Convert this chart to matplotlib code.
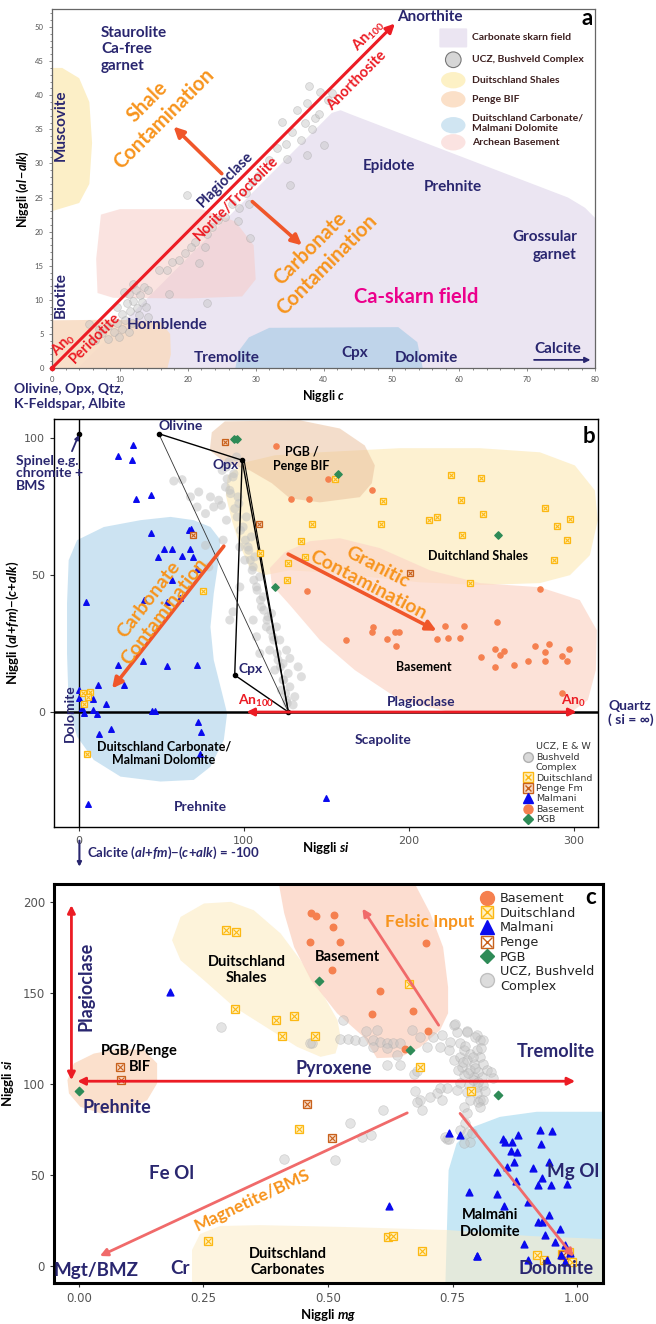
import matplotlib
matplotlib.use("Agg")
import matplotlib.pyplot as plt
from matplotlib.patches import Polygon, Ellipse, FancyBboxPatch
from matplotlib.lines import Line2D
from matplotlib.legend_handler import HandlerTuple
from matplotlib.ticker import MultipleLocator, FormatStrFormatter

plt.rcParams['font.family'] = ['Lato', 'DejaVu Sans']
plt.rcParams['mathtext.fontset'] = 'custom'
plt.rcParams['mathtext.rm'] = 'Lato:bold'
plt.rcParams['mathtext.it'] = 'Lato:italic:bold'
plt.rcParams['mathtext.bf'] = 'Lato:bold'

NAVY = '#29266f'
RED = '#ec1c24'
ORANGE = '#f7941d'
ARROW = '#f0562a'
SALMON = '#f06a6a'
YEL = '#fcb813'
YEL_FACE = '#fff2c4'
BRN = '#c8611c'
BRN_FACE = '#f9dcc8'
BLUE_PT = '#0a0aee'
ORG_PT = '#f5804f'
GRN = '#2e8b57'
GREY_PT = '#c4c4c4'

# ---------------- panel a : Niggli c vs Niggli (al-alk)
A_UCZ_X = [37.8, 39.5, 36.1, 37.6, 33.9, 35.3, 36.6, 40.0, 37.5, 34.6, 35.0, 40.7, 38.8, 37.3,
           38.3, 39.3, 41.2, 34.4, 33.1, 31.9, 30.4, 29.5, 28.5, 26.5, 24.5, 23.6, 25.5, 19.9,
           27.5, 29.0, 29.2, 27.4, 21.1, 22.6, 20.4, 19.6, 18.7, 17.7, 16.9, 15.7, 21.6, 22.8,
           22.8, 17.2, 10.6, 11.3, 12.3, 13.5, 14.2, 13.0, 12.0, 13.3, 11.0, 12.5, 11.5, 10.3,
           12.8, 10.8, 9.6, 11.8, 8.3, 10.3, 9.1, 7.4, 11.3, 9.8, 8.3, 6.9, 5.4, 14.2, 6.4,
           13.8, 12.0, 9.5]
A_UCZ_Y = [41.4, 40.5, 37.9, 38.8, 36.1, 34.6, 33.4, 32.7, 31.2, 30.6, 26.8, 39.3, 36.6, 35.9,
           35.1, 37.3, 40.3, 32.9, 32.2, 30.5, 28.1, 27.3, 25.6, 24.1, 21.7, 20.7, 22.2, 25.3,
           23.4, 24.1, 19.0, 21.5, 18.5, 17.8, 17.8, 16.8, 15.8, 15.6, 14.4, 14.4, 15.4, 19.7,
           9.5, 10.9, 11.2, 10.9, 11.5, 11.9, 11.5, 10.7, 9.9, 9.7, 9.5, 8.8, 8.3, 8.0,
           7.8, 7.1, 6.6, 6.6, 6.1, 5.8, 5.3, 5.1, 5.3, 4.6, 4.3, 5.8, 6.5, 7.5, 4.1,
           9.0, 12.3, 9.0]
A_SKARN = [(3.8, 0), (41.2, 37.4), (42.5, 37.8), (44, 37.2), (76, 25), (78.5, 23.5), (80, 22), (80, 0)]
A_SHALES = [(0, 23), (4, 24.2), (5.5, 27), (5.9, 33), (5.5, 39), (4, 42.5), (1.5, 44), (0, 44)]
A_BASEMENT = [(7.2, 22.5), (10, 23.3), (22, 23.3), (27, 21.5), (29.7, 18), (30, 13), (28, 10.5),
              (20, 10.2), (9, 10.3), (6.7, 11), (6.5, 16)]
A_PENGE = [(0, 0), (0, 7), (10, 7.1), (16, 6.8), (17.4, 5), (17.5, 2), (17, 0)]
A_CARB = [(27, 0), (27.5, 2.5), (29, 4.5), (32, 5.9), (51, 6), (53.8, 3.8), (54.6, 0)]
A_PLAG_LINE = [(0, 0), (50.5, 50.5)]
A_ARROWS = [((25.0, 28.5), (17.9, 35.4)), ((29.5, 24.4), (36.8, 18.0))]
A_CALCITE_ARROW = [(71.0, 1.2), (79.3, 1.2)]

# ---------------- panel b : Niggli si vs (al+fm)-(c+alk)
B_UCZ_X = [57.6, 62.6, 72.7, 79.8, 84.8, 81.8, 76.8, 71.7, 67.7, 89.9, 88.9, 92.0, 94.0, 95.6, 90.9,
           86.9, 97.0, 96.0, 98.0, 101.0, 103.0, 104.0, 105.1, 106.1, 108.1, 110.1, 112.1, 114.1,
           116.2, 118.2, 120.2, 122.2, 124.2, 125.3, 126.3, 76.8, 78.8, 93.5, 97.6, 89.5, 93.5,
           91.5, 96.5, 94.5, 101.6, 99.6, 104.6, 102.6, 106.7, 105.7, 109.7, 107.7, 111.7, 110.7,
           114.7, 113.7, 117.7, 115.7, 120.8, 118.8, 123.8, 122.8, 125.9, 129.9, 130.9, 127.9,
           126.9, 123.8, 127.9, 132.9, 134.9, 125.9, 121.8, 119.8, 116.8, 105.7, 107.7, 109.7,
           86.5, 89.5, 87.5, 97.6, 100.6, 91.5]
B_UCZ_Y = [84.4, 84.9, 80.4, 78.6, 77.4, 74.9, 72.5, 74.9, 78.6, 85.2, 82.2, 79.8, 87.1, 93.2, 91.4,
           88.3, 76.2, 71.3, 66.4, 62.8, 59.1, 55.5, 51.8, 48.2, 44.5, 40.9, 37.2, 33.6,
           29.9, 26.3, 21.4, 16.5, 11.7, 6.8, 3.2, 60.9, 53.0, 36.6, 45.7, 89.5, 85.9,
           81.0, 78.6, 74.3, 71.3, 67.6, 64.0, 60.3, 56.7, 53.0, 49.4, 45.7, 42.1, 38.4,
           34.8, 31.1, 27.5, 22.6, 19.0, 15.3, 11.7, 8.0, 4.4, 2.6, 5.6, 9.2,
           14.1, 17.7, 19.6, 16.5, 12.9, 22.6, 26.3, 31.1, 36.0, 33.6, 27.5, 21.4,
           75.5, 70.1, 62.8, 60.3, 55.5, 33.6]
B_MALMANI_X = [32.7, 23.6, 32.3, 34.7, 44.0, 44.0, 66.7, 68.1, 51.5, 56.6, 48.1, 62.4, 67.7, 69.5,
               71.7, 56.6, 4.6, 39.4, 53.5, 61.6, 39.0, 23.8, 53.3, 71.5, 11.5, 27.7, 16.6, 0.0,
               2.0, 8.5, 3.0, 8.7, 10.8, 0.0, 44.4, 45.9, 12.5, 19.8, 72.5, 74.0, 73.3, 5.5, 150.1]
B_MALMANI_Y = [97.7, 93.5, 92.2, 78.0, 79.2, 65.4, 66.4, 66.8, 59.4, 59.7, 56.5, 56.9, 59.4, 56.7,
               52.4, 48.2, 40.3, 40.9, 40.3, 41.5, 18.7, 17.0, 16.7, 17.3, 9.7, 9.7, 3.0, 5.2,
               1.3, 4.6, -0.2, 0.9, -0.6, 8.0, 0.4, 0.4, -8.1, -6.3, -3.8, -7.4, -15.3, -33.7, -31.3]
B_DUIT_X = [75.2, 2.6, 7.1, 5.7, 3.4, 5.1, 155.2, 184.2, 141.4, 134.5, 136.9, 126.5, 125.9, 109.7,
            183.2, 212.1, 217.1, 225.3, 243.6, 231.9, 245.1, 232.5, 237.0, 282.4, 297.6, 289.9,
            295.6, 287.9]
B_DUIT_Y = [44.4, 7.1, 7.4, 5.6, 2.8, -15.5, 85.3, 77.0, 68.6, 62.5, 56.7, 54.3, 48.2, 58.0,
            68.6, 70.3, 71.3, 86.5, 85.6, 77.4, 72.5, 64.8, 47.0, 74.7, 70.7, 67.9,
            62.8, 55.5]
B_PENGE_X = [69.3, 88.5, 109.3, 200.6]
B_PENGE_Y = [64.6, 98.7, 68.6, 50.8]
B_BASE_X = [119.4, 151.1, 128.9, 139.6, 177.4, 138.4, 279.4, 178.4, 177.8, 162.2, 186.5, 191.5,
            194.1, 192.5, 216.8, 222.1, 223.9, 230.7, 233.4, 253.7, 252.1, 257.8, 255.2, 243.6,
            252.5, 263.8, 272.3, 276.4, 282.4, 285.1, 282.6, 293.1, 296.8, 295.6, 292.9]
B_BASE_Y = [97.2, 85.3, 77.7, 77.8, 81.0, 44.3, 44.8, 31.1, 29.3, 26.3, 26.5, 29.3,
            29.3, 24.2, 26.6, 31.5, 26.9, 27.0, 31.6, 33.0, 22.9, 22.3, 20.8, 20.0,
            16.3, 17.3, 18.6, 24.0, 21.9, 24.7, 18.8, 20.5, 22.9, 18.6, 6.8]
B_PGB_X = [93.9, 95.9, 156.8, 254.1, 118.8]
B_PGB_Y = [99.9, 99.9, 86.9, 64.6, 45.7]
# phase points: spinel, olivine, opx, cpx, An100
B_PHASE_X = [0.0, 48.5, 99.0, 94.5, 127.0]
B_PHASE_Y = [101.7, 101.7, 92.0, 13.5, 0.0]
B_CARB = [(-6.1, 55.5), (-1.0, 62.8), (15.2, 67.6), (37.4, 70.1), (55.6, 71.3), (69.7, 70.1),
          (79.8, 67.6), (85.9, 62.8), (84.8, 55.5), (81.8, 43.3), (79.8, 31.1), (81.8, 19.0),
          (86.9, 6.8), (89.9, -0.5), (87.9, -10.2), (79.8, -20.0), (69.7, -24.8), (49.5, -25.4),
          (25.3, -23.6), (9.1, -17.5), (-1.0, -9.0), (-6.1, 1.9), (-7.1, 21.4), (-7.1, 39.7)]
B_PENGE_FIELD = [(80.6, 102.2), (88.5, 106.2), (133.9, 106.6), (158.2, 103.6), (173.3, 97.4),
                 (179.4, 90.1), (177.6, 83.6), (170.3, 78.5), (146.1, 76.6), (127.9, 78.1),
                 (117.0, 83.6), (103.6, 88.3), (88.5, 91.2), (79.4, 95.6)]
B_SHALES = [(90.3, 86.5), (100.6, 91.2), (118.8, 93.8), (146.1, 94.9), (194.5, 96.4), (243.0, 96.4),
            (279.4, 94.9), (300.6, 90.1), (312.7, 81.0), (314.5, 70.1), (309.7, 57.3), (297.6, 50.0),
            (279.4, 47.1), (243.0, 46.4), (206.7, 47.4), (176.4, 49.3), (146.1, 51.1), (127.9, 51.8),
            (112.7, 50.0), (103.6, 52.6), (97.6, 60.9), (92.7, 70.1), (89.1, 79.2)]
B_BASEMENT = [(115.8, 52.6), (124.8, 58.4), (140.0, 62.4), (158.2, 63.5), (182.4, 59.9), (212.7, 51.8),
              (243.0, 47.1), (279.4, 45.6), (303.6, 40.9), (313.9, 29.9), (313.3, 15.3), (308.5, 4.4),
              (297.6, -0.4), (267.3, -0.7), (224.8, 0.0), (194.5, 4.4), (167.3, 15.3), (146.1, 26.3),
              (127.9, 39.1), (117.0, 46.4)]
B_ARROWS = [((87.9, 60.6), (20.2, 8.6)), ((126.9, 57.7), (216.8, 29.7))]
B_PLAG_ARROWS = [((127, 0), (101.6, 0)), ((127, 0), (301.6, 0))]

# ---------------- panel c : Niggli mg vs Niggli si
C_UCZ_X = [0.285, 0.412, 0.467, 0.531, 0.524, 0.541, 0.554, 0.571, 0.576, 0.598, 0.591, 0.605, 0.618,
           0.631, 0.645, 0.591, 0.618, 0.639, 0.668, 0.685, 0.698, 0.711, 0.725, 0.728, 0.752, 0.758,
           0.778, 0.799, 0.805, 0.745, 0.765, 0.742, 0.752, 0.765, 0.772, 0.785, 0.799, 0.805, 0.778,
           0.792, 0.812, 0.768, 0.785, 0.802, 0.819, 0.772, 0.792, 0.809, 0.765, 0.782, 0.799, 0.812,
           0.758, 0.778, 0.799, 0.805, 0.785, 0.738, 0.725, 0.718, 0.705, 0.685, 0.675, 0.672, 0.678,
           0.645, 0.618, 0.679, 0.689, 0.728, 0.772, 0.778, 0.775, 0.765, 0.778, 0.785, 0.772, 0.738,
           0.802, 0.611, 0.544, 0.568, 0.587, 0.514, 0.464, 0.754, 0.778, 0.795, 0.812, 0.827, 0.832,
           0.811, 0.805, 0.735, 0.742, 0.789, 0.790, 0.780, 0.795, 0.770, 0.800, 0.815, 0.760, 0.790,
           0.808, 0.775]
C_UCZ_Y = [131.2, 58.6, 122.4, 135.2, 124.6, 124.6, 124.2, 123.7, 129.2, 129.7, 124.2, 123.3, 122.4,
           122.7, 122.4, 120.3, 119.7, 115.8, 129.7, 126.0, 120.6, 126.0, 120.6, 127.0, 132.5, 128.8,
           129.4, 127.0, 124.2, 123.3, 122.4, 118.6, 113.1, 114.9, 118.6, 116.8, 118.6, 114.9, 113.1,
           111.3, 111.3, 109.5, 107.7, 106.8, 107.7, 104.9, 104.0, 104.0, 100.4, 99.5, 98.6, 99.5,
           96.7, 95.8, 94.9, 91.2, 91.2, 97.6, 97.6, 94.9, 93.0, 91.2, 96.3, 105.4, 107.2,
           110.4, 110.4, 90.3, 85.7, 91.2, 87.5, 83.9, 78.4, 74.7, 72.9, 68.3, 67.4, 70.1,
           90.3, 85.7, 78.4, 71.1, 72.0, 58.2, 122.4, 133.3, 128.7, 126.0, 124.2, 106.8, 103.1,
           91.2, 87.5, 71.1, 69.6, 72.9, 102.0, 106.0, 109.0, 112.0, 101.0, 96.0, 108.0, 115.0,
           120.0, 121.0]
C_BASE_X = [0.465, 0.475, 0.512, 0.510, 0.464, 0.524, 0.507, 0.696, 0.604, 0.589, 0.670, 0.700, 0.654]
C_BASE_Y = [194.1, 192.3, 192.9, 186.5, 178.3, 177.9, 162.6, 177.7, 151.3, 138.4, 140.1, 129.3, 119.5]
C_DUIT_X = [0.295, 0.316, 0.313, 0.396, 0.431, 0.408, 0.473, 0.663, 0.684, 0.442, 0.787, 0.260,
            0.621, 0.630, 0.689, 0.920, 0.934, 0.969, 0.979, 0.989, 0.983]
C_DUIT_Y = [184.6, 183.4, 141.4, 135.2, 137.3, 126.7, 126.4, 155.3, 109.5, 75.6, 96.2, 13.9,
            16.1, 16.5, 8.2, 6.0, 3.3, 6.6, 5.1, 2.4, 7.9]
C_PENGE_X = [0.082, 0.085, 0.458, 0.507, 0.972]
C_PENGE_Y = [109.2, 102.2, 89.0, 70.5, 6.0]
C_PGB_X = [0.001, 0.481, 0.665, 0.841]
C_PGB_Y = [96.3, 156.8, 118.7, 94.3]
C_MALMANI_X = [0.183, 0.623, 0.799, 0.742, 0.764, 0.852, 0.855, 0.869, 0.881, 0.926, 0.950, 0.928,
               0.867, 0.879, 0.874, 0.859, 0.839, 0.911, 0.944, 0.930, 0.921, 0.948, 0.979, 0.878,
               0.782, 0.839, 0.853, 0.901, 0.944, 0.922, 0.929, 0.966, 0.935, 0.893, 0.956, 0.798,
               0.902, 0.940, 0.968, 0.976, 0.976, 0.986]
C_MALMANI_Y = [150.4, 33.0, 5.5, 73.3, 72.3, 70.1, 68.3, 68.3, 71.9, 74.7, 74.2, 67.0,
               63.2, 62.5, 57.3, 54.2, 51.8, 54.0, 57.3, 48.5, 44.5, 44.5, 45.0, 46.7,
               40.8, 39.6, 33.0, 35.3, 28.0, 24.3, 24.3, 20.3, 17.0, 12.1, 13.0, 5.7,
               3.3, 3.3, 6.0, 11.5, 2.4, 7.0]
C_SHALES = [(0.187, 179.1), (0.204, 191.9), (0.251, 199.3), (0.305, 200.2), (0.351, 195.6), (0.405, 182.8),
            (0.445, 168.1), (0.485, 151.6), (0.519, 135.2), (0.525, 126.0), (0.515, 116.9), (0.485, 115.0),
            (0.438, 120.5), (0.385, 129.7), (0.311, 142.5), (0.251, 157.1), (0.204, 168.1)]
C_BASEMENT = [(0.398, 215), (0.665, 215), (0.705, 194.0), (0.731, 175.3), (0.741, 153.3), (0.741, 139.0),
              (0.725, 129.7), (0.685, 120.3), (0.645, 114.8), (0.598, 114.3), (0.572, 125.8),
              (0.518, 139.0), (0.466, 157.1), (0.432, 175.3), (0.412, 194.0)]
C_PENGE_FIELD = [(-0.023, 102.2), (-0.010, 111.4), (0.030, 116.8), (0.084, 119.6), (0.131, 118.7),
                 (0.157, 111.4), (0.157, 100.4), (0.137, 91.2), (0.097, 85.7), (0.044, 83.9),
                 (0.003, 87.5), (-0.020, 94.9)]
C_MALMANI_FIELD = [(0.735, -15), (0.742, 52.7), (0.758, 67.4), (0.792, 76.5), (0.845, 82.0),
                   (0.919, 84.8), (1.1, 84.8), (1.1, -15)]
C_CARB_FIELD = [(0.227, -15), (0.227, 8.8), (0.243, 17.6), (0.283, 22.0), (0.363, 22.5), (0.544, 21.4),
                (0.739, 19.8), (0.906, 16.5), (1.1, 14.3), (1.1, -15)]
C_RED_ARROWS = [((-0.015, 102.2), (-0.015, 198.4)), ((-0.003, 101.6), (0.996, 101.6))]
C_SALMON_ARROWS = [((0.722, 132.4), (0.569, 196.5)), ((0.659, 84.2), (0.042, 5.5)),
                   ((0.765, 83.9), (0.993, 5.1))]


def field(ax, pts, color, alpha=1.0, z=1):
    ax.add_patch(Polygon(pts, closed=True, fc=color, ec='none', alpha=alpha, zorder=z))


def arrow(ax, start, end, color, lw, style='-|>', ms=12, z=6):
    ax.annotate('', xy=end, xytext=start, zorder=z, annotation_clip=False,
                arrowprops=dict(arrowstyle=style, color=color, lw=lw, mutation_scale=ms,
                                shrinkA=0, shrinkB=0))


def boxx(ax, xs, ys, edge, face, ms, z=5):
    ax.plot(xs, ys, ls='none', marker='s', ms=ms, mfc=face, mec=edge, mew=0.9, zorder=z)
    ax.plot(xs, ys, ls='none', marker='x', ms=ms * 0.72, mec=edge, mew=0.8, zorder=z)


def label(ax, x, y, s, size, color=NAVY, **kw):
    kw.setdefault('ha', 'center')
    kw.setdefault('va', 'center')
    ax.text(x, y, s, fontsize=size, color=color, fontweight='bold', zorder=8, **kw)


fig = plt.figure(figsize=(6.56, 13.24), dpi=100)

# =========================== a
axa = fig.add_axes([0.0793, 0.722, 0.828, 0.271])
axa.set_xlim(0, 80)
axa.set_ylim(0, 52.6)
field(axa, A_SKARN, '#ebe5f2', z=1)
field(axa, A_CARB, '#bfd4ea', z=1.1)
field(axa, A_PENGE, '#f8dcc4', alpha=0.9, z=1.2)
field(axa, A_SHALES, '#fcefc7', z=1.2)
field(axa, A_BASEMENT, '#f7c9c3', alpha=0.5, z=1.3)

axa.scatter(A_UCZ_X, A_UCZ_Y, s=32, c=GREY_PT, alpha=0.45, edgecolors='#a0a0a0',
            linewidths=0.5, zorder=3)
arrow(axa, A_PLAG_LINE[0], A_PLAG_LINE[1], RED, 2.2, ms=13, z=4)
axa.plot([0], [0], 'o', color=RED, ms=3, zorder=4, clip_on=False)
for s, e in A_ARROWS:
    arrow(axa, s, e, ARROW, 2.6, ms=15)
arrow(axa, A_CALCITE_ARROW[0], A_CALCITE_ARROW[1], NAVY, 1.3, ms=8)

label(axa, 7.2, 50.2, 'Staurolite\nCa-free\ngarnet', 11, ha='left', va='top', linespacing=1.25)
label(axa, 1.3, 35.6, 'Muscovite', 11, rotation=90)
label(axa, 1.3, 10.7, 'Biotite', 11, rotation=90)
label(axa, 15.3, 37.8, 'Shale\nContamination', 14.5, ORANGE, rotation=45,
      rotation_mode='anchor', multialignment='center')
label(axa, 39.3, 16.3, 'Carbonate\nContamination', 14.5, ORANGE, rotation=45,
      rotation_mode='anchor', multialignment='center')
label(axa, 25.6, 27.6, 'Plagioclase', 10.5, rotation=45, rotation_mode='anchor')
label(axa, 27.1, 24.8, 'Norite/Troctolite', 10.5, RED, rotation=45, rotation_mode='anchor')
label(axa, 6.4, 4.4, 'Peridotite', 10.5, RED, rotation=45, rotation_mode='anchor')
label(axa, 1.6, 3.5, 'An$_0$', 10.5, RED, rotation=45, rotation_mode='anchor')
label(axa, 46.6, 48.8, 'An$_{100}$', 10.5, RED, rotation=45, rotation_mode='anchor')
label(axa, 44.9, 42.2, 'Anorthosite', 10.5, RED, rotation=45, rotation_mode='anchor')
label(axa, 55.7, 51.4, 'Anorthite', 11)
label(axa, 49.6, 29.6, 'Epidote', 11)
label(axa, 59.1, 26.6, 'Prehnite', 11)
label(axa, 77.3, 17.9, 'Grossular\ngarnet', 11, ha='right', multialignment='right', linespacing=1.3)
label(axa, 53.7, 10.4, 'Ca-skarn field', 14.5, '#ec008c')
label(axa, 16.9, 6.3, 'Hornblende', 11)
label(axa, 25.7, 1.5, 'Tremolite', 11)
label(axa, 44.6, 2.2, 'Cpx', 11)
label(axa, 55.2, 1.5, 'Dolomite', 11)
label(axa, 74.5, 2.8, 'Calcite', 11)
label(axa, 78.8, 51.2, 'a', 16, 'black')
axa.text(-5.6, -4.1, 'Olivine, Opx, Qtz,\nK-Feldspar, Albite', fontsize=10, color=NAVY,
         fontweight='bold', ha='left', va='center', clip_on=False, linespacing=1.3)

# manual legend of panel a
leg_rows = [48.4, 45.2, 42.2, 39.4, 35.9, 33.1]
leg_text = ['Carbonate skarn field', 'UCZ, Bushveld Complex', 'Duitschland Shales', 'Penge BIF',
            'Duitschland Carbonate/\nMalmani Dolomite', 'Archean Basement']
leg_cols = ['#ebe5f2', '#d6d6d6', '#fdf1c5', '#fbe0c8', '#d0e5f2', '#fbe3e1']
for i, (yy, txt, col) in enumerate(zip(leg_rows, leg_text, leg_cols)):
    if i == 0:
        axa.add_patch(FancyBboxPatch((57.2, yy - 1.25), 3.8, 2.5, boxstyle='round,pad=0.15',
                                     fc=col, ec='none', zorder=7))
    elif i == 1:
        axa.add_patch(Ellipse((59.1, yy), 2.3, 2.3, fc=col, ec='#777777', lw=0.8, zorder=7))
    else:
        axa.add_patch(Ellipse((59.1, 35.6 if i == 4 else yy), 3.6, 2.4, fc=col, ec='none', zorder=7))
    axa.text(61.9, yy, txt, fontsize=7.5, fontweight='bold', color='#3d2020', ha='left',
             va='center', zorder=8, linespacing=1.1)

axa.set_xticks(range(0, 81, 10))
axa.set_yticks(range(0, 51, 5))
axa.xaxis.set_minor_locator(MultipleLocator(2))
axa.yaxis.set_minor_locator(MultipleLocator(1))
axa.tick_params(which='both', labelsize=5.5, labelcolor='#555555', color='#777777', width=0.6)
axa.tick_params(which='major', length=2.5)
axa.tick_params(which='minor', length=1.5)
for sp in axa.spines.values():
    sp.set_color('#666666')
    sp.set_linewidth(0.9)
axa.set_xlabel('Niggli $c$', fontsize=9, fontweight='bold', labelpad=3)
axa.set_ylabel('Niggli $(al\\,{-}alk)$', fontsize=9, fontweight='bold', labelpad=3)

# =========================== b
axb = fig.add_axes([0.0823, 0.3754, 0.829, 0.308])
axb.set_xlim(-15, 314.5)
axb.set_ylim(-42, 107)
field(axb, B_SHALES, '#fdefc9', alpha=0.85, z=1)
field(axb, B_BASEMENT, '#fcd6c8', alpha=0.7, z=1.1)
field(axb, B_PENGE_FIELD, '#e9bd98', alpha=0.5, z=1.2)
field(axb, B_CARB, '#c3dff0', alpha=0.85, z=1.3)

axb.axhline(0, color='black', lw=1.8, zorder=2)
axb.axvline(0, color='black', lw=1.0, zorder=2)
axb.scatter(B_UCZ_X, B_UCZ_Y, s=42, c=GREY_PT, alpha=0.55, edgecolors='none', zorder=3)

# tie lines between phase points
sp_, ol, opx, cpx, an = list(zip(B_PHASE_X, B_PHASE_Y))
for p, q in [(ol, opx), (opx, cpx), (cpx, an), (opx, an)]:
    axb.plot([p[0], q[0]], [p[1], q[1]], color='black', lw=1.0, zorder=4)
axb.plot([opx[0] + 1.2, an[0]], [opx[1], an[1]], color='black', lw=0.8, zorder=4)
axb.plot([ol[0], an[0]], [ol[1], an[1]], color='#333333', lw=0.6, zorder=4)
axb.plot(B_PHASE_X, B_PHASE_Y, 'o', color='black', ms=3, zorder=5)
arrow(axb, (-4.1, 95.3), (0, 101.2), NAVY, 1.3, ms=6)

axb.scatter(B_MALMANI_X, B_MALMANI_Y, s=16, marker='^', c=BLUE_PT, zorder=5)
axb.scatter(B_BASE_X, B_BASE_Y, s=14, marker='o', c=ORG_PT, zorder=5)
boxx(axb, B_DUIT_X, B_DUIT_Y, YEL, YEL_FACE, 4.6)
boxx(axb, B_PENGE_X, B_PENGE_Y, BRN, BRN_FACE, 4.6)
axb.scatter(B_PGB_X, B_PGB_Y, s=14, marker='D', c=GRN, zorder=5)

for s, e in B_PLAG_ARROWS:
    arrow(axb, s, e, RED, 2.0, ms=11, z=5)
for s, e in B_ARROWS:
    arrow(axb, s, e, ARROW, 2.6, ms=15)

label(axb, 47.1, 39.1, 'Carbonate\nContamination', 14, ORANGE, rotation=52.5,
      rotation_mode='anchor', multialignment='center')
label(axb, 178.4, 49.6, 'Granitic\nContamination', 14, ORANGE, rotation=-27.5,
      rotation_mode='anchor', multialignment='center')
label(axb, 61.6, 104.4, 'Olivine', 10)
label(axb, 88.9, 90.1, 'Opx', 10)
label(axb, 104.1, 15.9, 'Cpx', 10)
label(axb, 135.0, 92.6, 'PGB /\nPenge BIF', 9, 'black', linespacing=1.2)
label(axb, 242.0, 56.9, 'Duitchland Shales', 9, 'black')
label(axb, 209.1, 16.3, 'Basement', 9, 'black')
label(axb, 51.5, -15.1, 'Duitschland Carbonate/\nMalmani Dolomite', 9, 'black', linespacing=1.2)
label(axb, -5.1, -0.5, 'Dolomite', 10, rotation=90)
label(axb, 73.7, -34.6, 'Prehnite', 10)
label(axb, 184.4, -10.2, 'Scapolite', 10)
label(axb, 207.7, 3.6, 'Plagioclase', 10)
label(axb, 107.7, 4.2, 'An$_{100}$', 10, RED)
label(axb, 299.6, 4.2, 'An$_0$', 10, RED)
axb.text(-37.8, 87.3, 'Spinel e.g.\nchromite +\nBMS', fontsize=10, color=NAVY, fontweight='bold',
         ha='left', va='center', clip_on=False, linespacing=1.05, zorder=8)
axb.text(320.8, -0.4, 'Quartz\n( si = ∞)', fontsize=10, color=NAVY, fontweight='bold',
         ha='left', va='center', clip_on=False, linespacing=1.1)
axb.text(5.0, -51.6, 'Calcite $(al{+}fm){-}(c{+}alk)$ = -100', fontsize=9.5, color=NAVY,
         fontweight='bold', ha='left', va='center', clip_on=False)
arrow(axb, (0.4, -47.0), (0.4, -56.5), NAVY, 1.5, ms=6)
label(axb, 309, 100.5, 'b', 16, 'black')

lg_b = [Line2D([], [], ls='none', marker='o', ms=7, mfc='#d9d9d9', mec='#b0b0b0'),
        (Line2D([], [], ls='none', marker='s', ms=6.5, mfc=YEL_FACE, mec=YEL),
         Line2D([], [], ls='none', marker='x', ms=5, mec=YEL)),
        (Line2D([], [], ls='none', marker='s', ms=6.5, mfc=BRN_FACE, mec=BRN),
         Line2D([], [], ls='none', marker='x', ms=5, mec=BRN)),
        Line2D([], [], ls='none', marker='^', ms=6.5, color=BLUE_PT),
        Line2D([], [], ls='none', marker='o', ms=6.5, color=ORG_PT),
        Line2D([], [], ls='none', marker='D', ms=5.5, color=GRN)]
axb.legend(lg_b, ['UCZ, E & W\nBushveld\nComplex', 'Duitschland', 'Penge Fm', 'Malmani',
                  'Basement', 'PGB'],
           handler_map={tuple: HandlerTuple(ndivide=1)}, loc='lower left',
           bbox_to_anchor=(0.855, -0.005), frameon=False,
           prop={'family': 'DejaVu Sans', 'size': 6.8}, handlelength=1.0, handletextpad=0.3,
           labelspacing=0.15, borderaxespad=0.1, labelcolor='#333333')

axb.set_xticks([0, 100, 200, 300])
axb.set_yticks([0, 50, 100])
axb.tick_params(labelsize=8, labelcolor='#555555', color='#333333', length=3, width=0.8)
for t in axb.get_xticklabels() + axb.get_yticklabels():
    t.set_family('DejaVu Sans')
for sp in axb.spines.values():
    sp.set_color('black')
    sp.set_linewidth(1.0)
axb.set_xlabel('Niggli $si$', fontsize=9.5, fontweight='bold', labelpad=-4)
axb.set_ylabel('Niggli $(al{+}fm){-}(c{+}alk)$', fontsize=9.5, fontweight='bold', labelpad=2)

# =========================== c
axc = fig.add_axes([0.0823, 0.031, 0.837, 0.3013])
axc.set_xlim(-0.05, 1.052)
axc.set_ylim(-9.3, 210)
field(axc, C_SHALES, '#fdf3da', z=1)
field(axc, C_BASEMENT, '#fcd8c8', alpha=0.85, z=1)
field(axc, C_PENGE_FIELD, '#fbe0cc', z=1)
field(axc, C_MALMANI_FIELD, '#c6e7f5', z=1.1)
field(axc, C_CARB_FIELD, '#fcecc8', alpha=0.55, z=1.2)

axc.scatter(C_UCZ_X, C_UCZ_Y, s=48, c=GREY_PT, alpha=0.45, edgecolors='#aaaaaa',
            linewidths=0.5, zorder=3)
axc.scatter(C_BASE_X, C_BASE_Y, s=22, marker='o', c=ORG_PT, zorder=5)
boxx(axc, C_DUIT_X, C_DUIT_Y, YEL, YEL_FACE, 5.5)
boxx(axc, C_PENGE_X, C_PENGE_Y, BRN, BRN_FACE, 5.5)
axc.scatter(C_MALMANI_X, C_MALMANI_Y, s=24, marker='^', c=BLUE_PT, zorder=5)
axc.scatter(C_PGB_X, C_PGB_Y, s=18, marker='D', c=GRN, zorder=5)

for s, e in C_RED_ARROWS:
    arrow(axc, s, e, RED, 2.0, style='<|-|>', ms=11)
for s, e in C_SALMON_ARROWS:
    arrow(axc, s, e, SALMON, 2.0, ms=11)

label(axc, 0.337, 162.6, 'Duitschland\nShales', 10.5, 'black', linespacing=1.2)
label(axc, 0.539, 170.0, 'Basement', 10.5, 'black')
label(axc, 0.705, 189.2, 'Felsic Input', 12.5, ORANGE)
label(axc, 0.122, 113.7, 'PGB/Penge\nBIF', 10.5, 'black', linespacing=1.2)
label(axc, 0.077, 87.0, 'Prehnite', 13)
label(axc, 0.015, 153.5, 'Plagioclase', 13, rotation=90)
label(axc, 0.511, 108.6, 'Pyroxene', 13)
label(axc, 0.958, 117.7, 'Tremolite', 13)
label(axc, 0.186, 50.9, 'Fe Ol', 13.5)
label(axc, 0.991, 51.8, 'Mg Ol', 13.5)
label(axc, 0.825, 23.4, 'Malmani\nDolomite', 10.5, 'black', linespacing=1.2)
label(axc, 0.958, -1.3, 'Dolomite', 13)
label(axc, 0.035, -2.6, 'Mgt/BMZ', 13.5)
label(axc, 0.203, -1.6, 'Cr', 13.5)
label(axc, 0.420, 2.4, 'Duitschland\nCarbonates', 10.5, 'black', linespacing=1.2)
label(axc, 0.347, 36.3, 'Magnetite/BMS', 12.5, ORANGE, rotation=25, rotation_mode='anchor')
label(axc, 1.027, 202.6, 'c', 16, 'black')

lg_c = [Line2D([], [], ls='none', marker='o', ms=10, color=ORG_PT),
        (Line2D([], [], ls='none', marker='s', ms=9, mfc=YEL_FACE, mec=YEL),
         Line2D([], [], ls='none', marker='x', ms=7, mec=YEL)),
        Line2D([], [], ls='none', marker='^', ms=10, color=BLUE_PT),
        (Line2D([], [], ls='none', marker='s', ms=9, mfc='white', mec=BRN),
         Line2D([], [], ls='none', marker='x', ms=7, mec=BRN)),
        Line2D([], [], ls='none', marker='D', ms=7.5, color=GRN),
        Line2D([], [], ls='none', marker='o', ms=10, mfc='#dcdcdc', mec='#c0c0c0')]
axc.legend(lg_c, ['Basement', 'Duitschland', 'Malmani', 'Penge', 'PGB', 'UCZ, Bushveld\nComplex'],
           handler_map={tuple: HandlerTuple(ndivide=1)}, loc='upper left',
           bbox_to_anchor=(0.765, 0.995), frameon=False,
           prop={'family': 'DejaVu Sans', 'size': 9.2}, handlelength=1.1, handletextpad=0.45,
           labelspacing=0.12, borderaxespad=0.1, labelcolor='#222222')

axc.set_xticks([0, 0.25, 0.5, 0.75, 1.0])
axc.xaxis.set_major_formatter(FormatStrFormatter('%.2f'))
axc.set_yticks([0, 50, 100, 150, 200])
axc.tick_params(labelsize=8.5, labelcolor='#555555', color='#333333', length=3, width=0.8)
for t in axc.get_xticklabels() + axc.get_yticklabels():
    t.set_family('DejaVu Sans')
for sp in axc.spines.values():
    sp.set_color('black')
    sp.set_linewidth(2.2)
axc.set_xlabel('Niggli $mg$', fontsize=9.5, fontweight='bold', labelpad=1.5)
axc.set_ylabel('Niggli $si$', fontsize=9.5, fontweight='bold', labelpad=5)

fig.savefig('out.png', dpi=100)
